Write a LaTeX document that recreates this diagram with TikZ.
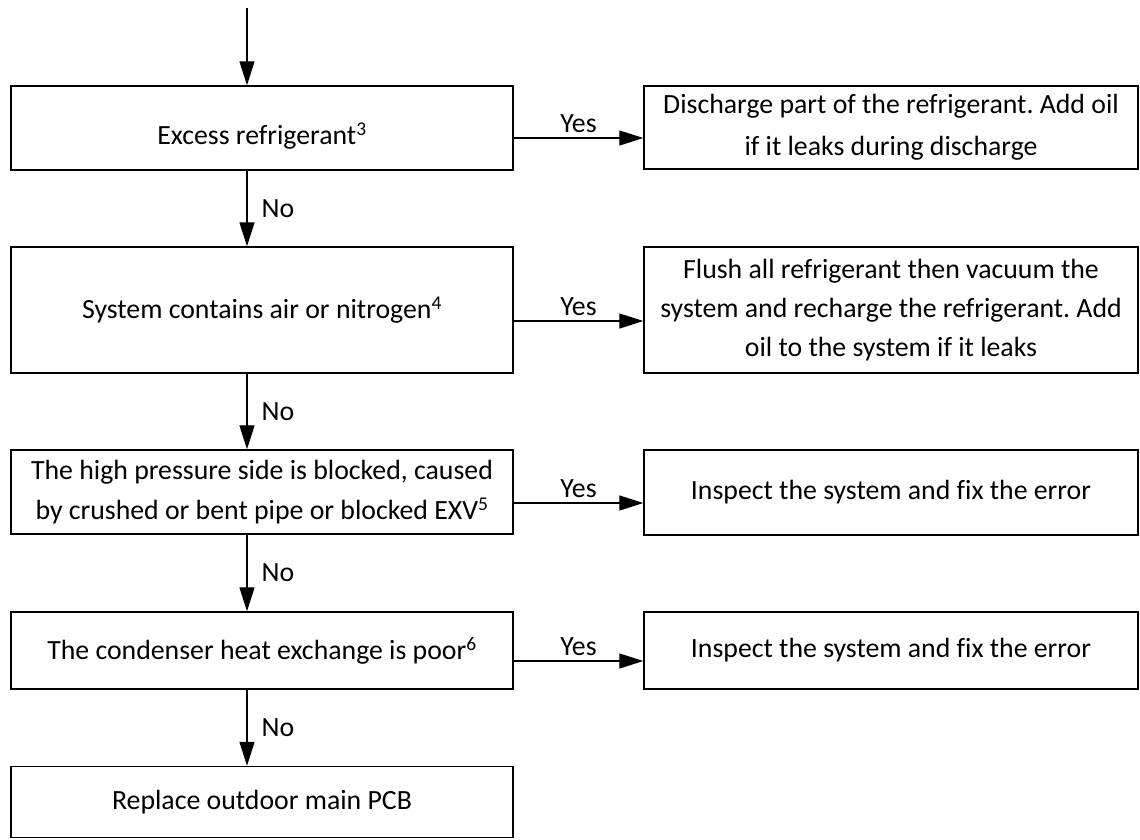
\documentclass[tikz,border=0pt]{standalone}
\usepackage{fontspec}
\setmainfont{Carlito}[Ligatures=NoCommon]
\frenchspacing
\usetikzlibrary{arrows.meta}
\begin{document}
\begin{tikzpicture}[x=1pt,y=-1pt,
  lbox/.style={draw, line width=1.4pt, minimum width=502pt, align=center, inner sep=0pt,
    font=\fontsize{27.8}{40}\selectfont},
  rbox/.style={draw, line width=1.4pt, minimum width=494pt, align=center, inner sep=0pt,
    font=\fontsize{27.8}{40}\selectfont},
  arr/.style={line width=1.3pt, -{Triangle[length=24pt,width=15pt]}},
  nolab/.style={anchor=west, inner sep=0pt, xshift=14pt, font=\fontsize{27.8}{30}\selectfont},
  yeslab/.style={midway, above, inner sep=5pt, font=\fontsize{27.8}{30}\selectfont}
]
\useasboundingbox (0,0) rectangle (1140,839);
\fill[white] (0,0) rectangle (1140,839);

\node[lbox, minimum height=84pt, text height=38pt] (b1) at (262,128) {Excess refrigerant\textsuperscript{3}};
\node[lbox, minimum height=126pt] (b2) at (262,310) {System contains air or nitrogen\textsuperscript{4}};
\node[lbox, minimum height=84pt] (b3) at (262,492) {The high pressure side is blocked, caused\\by crushed or bent pipe or blocked EXV\textsuperscript{5}};
\node[lbox, minimum height=77pt] (b4) at (262,650.5) {The condenser heat exchange is poor\textsuperscript{6}};
\node[lbox, minimum height=71pt] (b5) at (262,802) {Replace outdoor main PCB};

\node[rbox, minimum height=83pt, font=\fontsize{27.8}{42}\selectfont] (r1) at (891,127.5) {Discharge part of the refrigerant. Add oil\\if it leaks during discharge};
\node[rbox, minimum height=126pt, font=\fontsize{27.8}{39}\selectfont] (r2) at (891,310) {Flush all refrigerant then vacuum the\\system and recharge the refrigerant. Add\\oil to the system if it leaks};
\node[rbox, minimum height=85pt] (r3) at (891,492.5) {Inspect the system and fix the error};
\node[rbox, minimum height=77pt] (r4) at (891,650.5) {Inspect the system and fix the error};

\coordinate (start) at (247,8);
\draw[arr] (start) -- (start |- b1.north);
\draw[arr] (b1.south -| start) -- node[nolab] {No} (b2.north -| start);
\draw[arr] (b2.south -| start) -- node[nolab] {No} (b3.north -| start);
\draw[arr] (b3.south -| start) -- node[nolab] {No} (b4.north -| start);
\draw[arr] (b4.south -| start) -- node[nolab] {No} (b5.north -| start);

\draw[arr] ([yshift=-10pt]b1.east) -- node[yeslab] {Yes} ([yshift=-10pt]b1.east -| r1.west);
\draw[arr] ([yshift=-11pt]b2.east) -- node[yeslab] {Yes} ([yshift=-11pt]b2.east -| r2.west);
\draw[arr] ([yshift=-11pt]b3.east) -- node[yeslab] {Yes} ([yshift=-11pt]b3.east -| r3.west);
\draw[arr] ([yshift=-10.5pt]b4.east) -- node[yeslab] {Yes} ([yshift=-10.5pt]b4.east -| r4.west);
\end{tikzpicture}
\end{document}
